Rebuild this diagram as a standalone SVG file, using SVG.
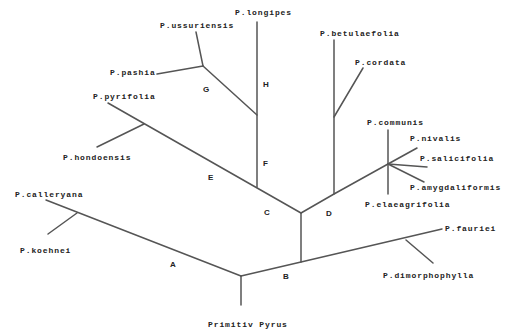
<svg xmlns="http://www.w3.org/2000/svg" width="510" height="332" viewBox="0 0 510 332">
<style>
.e{stroke:#555;stroke-width:1.5;fill:none;stroke-linecap:round}
.t{font-family:"Liberation Mono","DejaVu Sans Mono",monospace;font-size:8px;font-weight:bold;fill:#222;letter-spacing:0.9px}
.l{font-family:"Liberation Sans","DejaVu Sans",sans-serif;font-size:8px;font-weight:bold;fill:#222}
</style>
<rect width="510" height="332" fill="#fff"/>
<g id="connectors">
<path class="e" d="M241,305 L241,276"/>
<path class="e" d="M241,276 L46,200"/>
<path class="e" d="M77,213 L48,234"/>
<path class="e" d="M241,276 L301,262 L442,229"/>
<path class="e" d="M406,240 L433,263"/>
<path class="e" d="M301,262 L301,213"/>
<path class="e" d="M301,213 L108,103"/>
<path class="e" d="M144,124 L97,147"/>
<path class="e" d="M257,187 L257,22"/>
<path class="e" d="M257,115 L203,66"/>
<path class="e" d="M203,66 L157,74"/>
<path class="e" d="M203,66 L196,32"/>
<path class="e" d="M301,213 L334,194 L388,164"/>
<path class="e" d="M334,194 L334,40"/>
<path class="e" d="M334,117 L363,68"/>
<path class="e" d="M388,130 L388,194"/>
<path class="e" d="M388,164 L417,148"/>
<path class="e" d="M388,164 L427,167"/>
<path class="e" d="M388,164 L424,182"/>
</g>
<g id="root"><text class="t" x="208" y="327">Primitiv Pyrus</text></g>
<g id="calleryana"><text class="t" x="15" y="197">P.calleryana</text></g>
<g id="koehnei"><text class="t" x="20" y="253">P.koehnei</text></g>
<g id="hondoensis"><text class="t" x="63" y="160">P.hondoensis</text></g>
<g id="pyrifolia"><text class="t" x="93" y="99">P.pyrifolia</text></g>
<g id="pashia"><text class="t" x="110" y="75">P.pashia</text></g>
<g id="ussuriensis"><text class="t" x="160" y="28">P.ussuriensis</text></g>
<g id="longipes"><text class="t" x="235" y="15">P.longipes</text></g>
<g id="betulaefolia"><text class="t" x="320" y="36">P.betulaefolia</text></g>
<g id="cordata"><text class="t" x="355" y="65">P.cordata</text></g>
<g id="communis"><text class="t" x="367" y="125">P.communis</text></g>
<g id="nivalis"><text class="t" x="410" y="141">P.nivalis</text></g>
<g id="salicifolia"><text class="t" x="420" y="161">P.salicifolia</text></g>
<g id="amygdaliformis"><text class="t" x="410" y="190">P.amygdaliformis</text></g>
<g id="elaeagrifolia"><text class="t" x="365" y="207">P.elaeagrifolia</text></g>
<g id="fauriei"><text class="t" x="445" y="231">P.fauriei</text></g>
<g id="dimorphophylla"><text class="t" x="383" y="278">P.dimorphophylla</text></g>
<g id="labels">
<text class="l" x="170" y="267">A</text>
<text class="l" x="283" y="279">B</text>
<text class="l" x="264" y="215">C</text>
<text class="l" x="326" y="216">D</text>
<text class="l" x="208" y="180">E</text>
<text class="l" x="263" y="166">F</text>
<text class="l" x="203" y="92">G</text>
<text class="l" x="263" y="87">H</text>
</g>
</svg>
